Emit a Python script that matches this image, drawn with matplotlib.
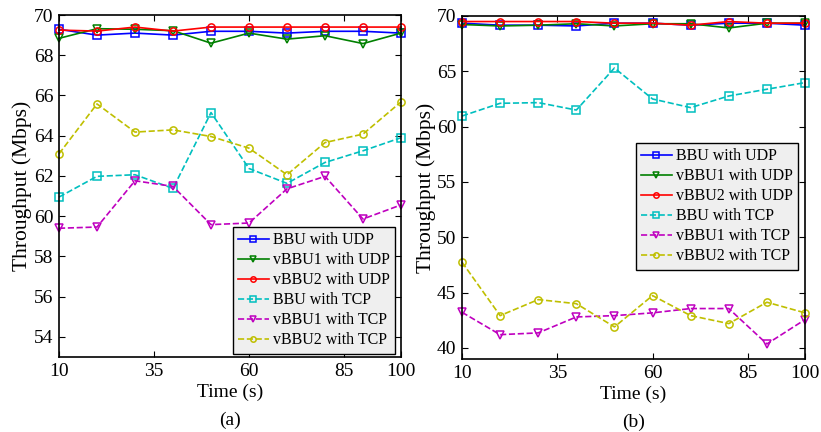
import matplotlib
matplotlib.use("Agg")
import matplotlib.pyplot as plt

plt.rcParams['font.family'] = ['Liberation Serif', 'DejaVu Serif']
plt.rcParams['mathtext.fontset'] = 'stix'

time_s = [10, 20, 30, 40, 50, 60, 70, 80, 90, 100]
x_ticks = [10, 35, 60, 85, 100]

# Panel (a)
a_bbu_udp = [69.29, 69.0, 69.1, 69.0, 69.19, 69.19, 69.1, 69.19, 69.19, 69.1]
a_vbbu1_udp = [68.84, 69.32, 69.29, 69.22, 68.6, 69.1, 68.8, 68.97, 68.58, 69.1]
a_vbbu2_udp = [69.25, 69.2, 69.4, 69.2, 69.4, 69.4, 69.4, 69.4, 69.4, 69.4]
a_bbu_tcp = [60.95, 61.98, 62.06, 61.38, 65.15, 62.37, 61.63, 62.67, 63.25, 63.9]
a_vbbu1_tcp = [59.4, 59.46, 61.76, 61.48, 59.58, 59.66, 61.36, 61.98, 59.86, 60.56]
a_vbbu2_tcp = [63.1, 65.58, 64.18, 64.29, 63.96, 63.38, 62.06, 63.66, 64.08, 65.68]

# Panel (b)
b_bbu_udp = [69.35, 69.17, 69.17, 69.1, 69.35, 69.35, 69.17, 69.35, 69.35, 69.17]
b_vbbu1_udp = [69.23, 69.1, 69.17, 69.3, 69.1, 69.3, 69.3, 68.92, 69.35, 69.35]
b_vbbu2_udp = [69.5, 69.5, 69.5, 69.5, 69.35, 69.35, 69.17, 69.5, 69.35, 69.35]
b_bbu_tcp = [60.96, 62.11, 62.17, 61.5, 65.3, 62.5, 61.72, 62.77, 63.38, 63.98]
b_vbbu1_tcp = [43.22, 41.2, 41.36, 42.8, 42.92, 43.17, 43.56, 43.56, 40.36, 42.56]
b_vbbu2_tcp = [47.75, 42.92, 44.37, 44.0, 41.9, 44.73, 42.92, 42.2, 44.13, 43.17]

labels = ['BBU with UDP', 'vBBU1 with UDP', 'vBBU2 with UDP',
          'BBU with TCP', 'vBBU1 with TCP', 'vBBU2 with TCP']
colors = ['#0000ff', '#008000', '#ff0000', '#00bfbf', '#bf00bf', '#bfbf00']
markers = ['s', 'v', 'o', 's', 'v', 'o']
styles = ['-', '-', '-', '--', '--', '--']

fig = plt.figure(figsize=(8.21, 4.32), dpi=100)
W, H = 821, 432

def make_axes(x0, x1, y0, y1):
    return fig.add_axes([x0 / W, 1 - y1 / H, (x1 - x0) / W, (y1 - y0) / H])

axA = make_axes(59, 401, 15, 357)
axB = make_axes(462, 805, 16, 359)

panels = [
    (axA, [a_bbu_udp, a_vbbu1_udp, a_vbbu2_udp, a_bbu_tcp, a_vbbu1_tcp, a_vbbu2_tcp],
     (53, 70), [54, 56, 58, 60, 62, 64, 66, 68, 70], '(a)', (395, 354)),
    (axB, [b_bbu_udp, b_vbbu1_udp, b_vbbu2_udp, b_bbu_tcp, b_vbbu1_tcp, b_vbbu2_tcp],
     (39, 70), [40, 45, 50, 55, 60, 65, 70], '(b)', (798, 270)),
]

for ax, series, ylim, yticks, tag, lcorner in panels:
    for vals, lab, c, m, ls in zip(series, labels, colors, markers, styles):
        ax.plot(time_s, vals, linestyle=ls, color=c, marker=m, markersize=5.2,
                markerfacecolor='none', markeredgecolor=c, markeredgewidth=1.1,
                linewidth=1.2, label=lab, clip_on=False)
    ax.set_xlim(10, 100)
    ax.set_ylim(*ylim)
    ax.set_xticks(x_ticks)
    ax.set_yticks(yticks)
    ax.tick_params(direction='in', top=True, right=True, labelsize=14,
                   length=4, width=0.8, pad=4)
    for sp in ax.spines.values():
        sp.set_linewidth(1.2)
    ax.set_ylabel('Throughput (Mbps)', fontsize=15.5, labelpad=1)
    ax.set_xlabel('Time (s)', fontsize=14, labelpad=3)
    ax.text(0.5, -0.185, tag, transform=ax.transAxes, ha='center', va='center',
            fontsize=14)
    cx, cy = lcorner
    leg = ax.legend(loc='lower right', bbox_to_anchor=(cx / W, 1 - cy / H),
                    bbox_transform=fig.transFigure, fontsize=11.5,
                    frameon=True, fancybox=False, handlelength=1.9,
                    handletextpad=0.25, labelspacing=0.25, borderpad=0.35,
                    borderaxespad=0.0, markerscale=0.75)
    leg.get_frame().set_facecolor('#efefef')
    leg.get_frame().set_edgecolor('black')
    leg.get_frame().set_linewidth(1.0)
    leg.get_frame().set_alpha(1.0)

fig.savefig('out.png', dpi=100)
